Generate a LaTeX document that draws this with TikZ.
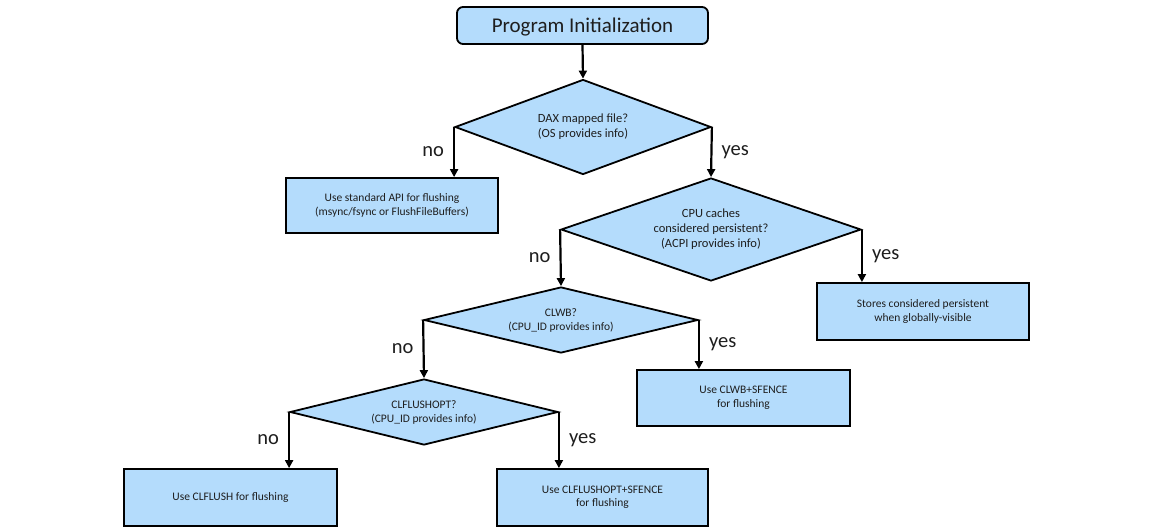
\documentclass[tikz,border=0pt]{standalone}
\usepackage{fontspec}
\setmainfont{Carlito}
\usetikzlibrary{shapes.geometric,arrows.meta}
\definecolor{boxblue}{RGB}{180,220,252}
\definecolor{txt}{RGB}{30,30,30}
\begin{document}
\begin{tikzpicture}[x=1pt,y=-1pt,
  box/.style={draw=black, fill=boxblue, line width=1.8pt, rectangle, inner sep=0pt, align=center,
    font=\fontsize{11.5}{13.5}\selectfont, text=txt},
  dec/.style={draw=black, fill=boxblue, line width=1.8pt, diamond, inner sep=0pt, aspect=2.5, align=center, text=txt},
  bigdec/.style={dec, font=\fontsize{12.5}{15}\selectfont},
  smalldec/.style={dec, font=\fontsize{11.5}{14}\selectfont},
  arr/.style={line width=2.2pt, -{Triangle[length=8pt,width=8pt]}},
  lblL/.style={anchor=east, font=\fontsize{20.5}{24}\selectfont, xshift=-9pt, inner sep=0pt, text=txt},
  lblR/.style={anchor=west, font=\fontsize{20.5}{24}\selectfont, xshift=9pt, inner sep=0pt, text=txt}
]
\fill[white] (0,0) rectangle (1162,530);
\useasboundingbox (0,0) rectangle (1162,530);

\node[box, rounded corners=6pt, minimum width=251pt, minimum height=37pt, text depth=0pt,
  font=\fontsize{21}{24}\selectfont] (init) at (582.5,25.5) {Program Initialization};

\node[bigdec, minimum width=256pt, minimum height=95pt] (d1) at (583,127) {DAX mapped file?\\(OS provides info)};
\node[box, minimum width=212pt, minimum height=55pt] (b1) at (392,205.5) {Use standard API for flushing\\(msync/fsync or FlushFileBuffers)};

\node[bigdec, minimum width=300pt, minimum height=103pt] (d2) at (711,229.5) {CPU caches\\considered persistent?\\(ACPI provides info)};
\node[box, minimum width=212pt, minimum height=57pt] (b2) at (923,311.5) {Stores considered persistent\\when globally-visible};

\node[smalldec, minimum width=274pt, minimum height=66pt] (d3) at (561,320) {CLWB?\\(CPU\_ID provides info)};
\node[box, minimum width=213pt, minimum height=56pt] (b3) at (743.5,398) {Use CLWB+SFENCE\\for flushing};

\node[smalldec, minimum width=268pt, minimum height=66pt] (d4) at (424,412) {CLFLUSHOPT?\\(CPU\_ID provides info)};
\node[box, minimum width=213pt, minimum height=57pt] (b4) at (230.5,497.5) {Use CLFLUSH for flushing};
\node[box, minimum width=211pt, minimum height=57pt] (b5) at (602.5,497.5) {Use CLFLUSHOPT+SFENCE\\for flushing};

\draw[arr] (init.south) -- (d1.north);
\draw[arr] (d1.west) -- node[lblL, name=l1]{no} (d1.west |- b1.north);
\draw[arr] (d1.east) -- node[lblR, name=l2]{yes} (d2.north);
\draw[arr] (d2.west) -- node[lblL, name=l3]{no} (d3.north);
\draw[arr] (d2.east) -- node[lblR, name=l4]{yes} (d2.east |- b2.north);
\draw[arr] (d3.west) -- node[lblL, name=l5]{no} (d4.north);
\draw[arr] (d3.east) -- node[lblR, name=l6]{yes} (d3.east |- b3.north);
\draw[arr] (d4.west) -- node[lblL, name=l7]{no} (d4.west |- b4.north);
\draw[arr] (d4.east) -- node[lblR, name=l8]{yes} (d4.east |- b5.north);
\end{tikzpicture}
\end{document}
